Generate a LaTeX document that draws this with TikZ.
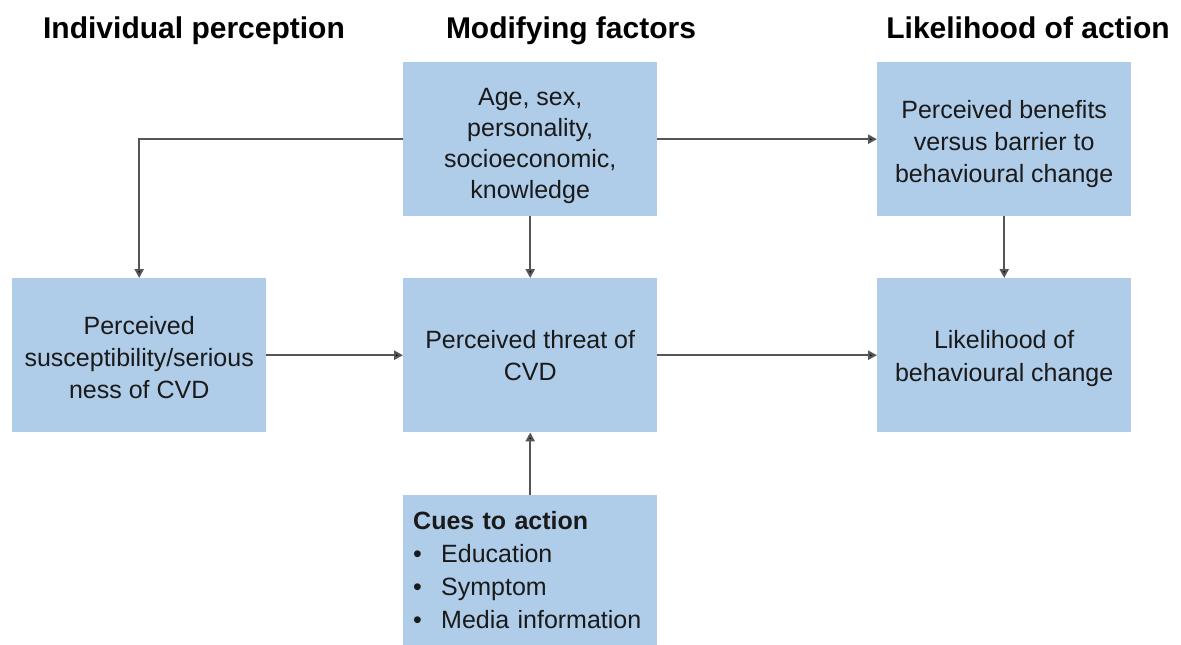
\documentclass[tikz,border=0pt]{standalone}
\usepackage{fontspec}
\setmainfont{Liberation Sans}
\usetikzlibrary{arrows.meta}
\definecolor{boxblue}{HTML}{AFCCE9}
\definecolor{linegray}{HTML}{555555}
\definecolor{txt}{HTML}{1A1A1A}
\newcommand{\boxtext}[2]{\parbox{254pt}{\centering\vspace*{#1}#2}}
\begin{document}
\begin{tikzpicture}[x=1pt,y=-1pt,
  box/.style={fill=boxblue, draw=none, minimum width=254pt, minimum height=154pt,
    align=center, font=\fontsize{25}{32}\selectfont, text=txt, inner sep=0pt, anchor=north west},
  title/.style={font=\bfseries\fontsize{30}{36}\selectfont, text=black, inner sep=0pt, anchor=base},
  conn/.style={draw=linegray, line width=2.2pt, -{Triangle[length=9pt,width=9pt,fill=black]}}]
\useasboundingbox (0,0) rectangle (1181,645);

\node[title] (t1) at (194,38) {Individual perception};
\node[title] (t2) at (571,38) {Modifying factors};
\node[title] (t3) at (1028,38) {Likelihood of action};

\node[box, font=\fontsize{25}{31}\selectfont] (top) at (403,62) {\boxtext{13pt}{Age, sex,\\personality,\\socioeconomic,\\knowledge}};
\node[box] (topr) at (877,62) {\boxtext{9pt}{Perceived benefits\\versus barrier to\\behavioural change}};
\node[box] (left) at (12,278) {\boxtext{4pt}{Perceived\\susceptibility/serious\\ness of CVD}};
\node[box] (mid) at (403,278) {Perceived threat of\\CVD};
\node[box, font=\fontsize{25}{33}\selectfont] (right) at (877,278) {\boxtext{7pt}{Likelihood of\\behavioural change}};
\node[box, minimum height=150pt, align=left, text width=234pt, inner xsep=10pt,
      font=\fontsize{25}{33}\selectfont] (cues) at (403,495)
  {\textbf{Cues to action}\\
   \makebox[28pt][l]{\textbullet}Education\\
   \makebox[28pt][l]{\textbullet}Symptom\\
   \makebox[28pt][l]{\textbullet}Media information};

\draw[conn] (top.west) -| (left.north);
\draw[conn] (top.east) -- (topr.west);
\draw[conn] (top.south) -- (mid.north);
\draw[conn] (topr.south) -- (right.north);
\draw[conn] (left.east) -- (mid.west);
\draw[conn] (mid.east) -- (right.west);
\draw[conn] (cues.north) -- (mid.south);
\end{tikzpicture}
\end{document}
